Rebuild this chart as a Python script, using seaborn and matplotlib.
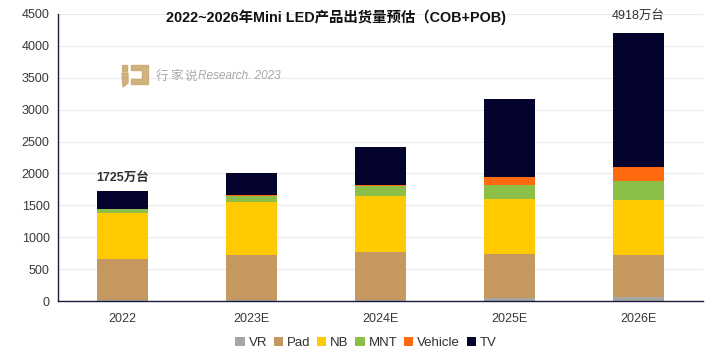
import matplotlib
matplotlib.use("Agg")
import matplotlib.pyplot as plt
from matplotlib.patches import Patch, Polygon, Rectangle
import numpy as np
import seaborn as sns

# Mini LED shipments (COB+POB), unit: 万台
years = ["2022", "2023E", "2024E", "2025E", "2026E"]
vr = [10, 12, 15, 50, 60]
pad = [650, 705, 758, 690, 660]
nb = [715, 830, 877, 862, 856]
mnt = [65, 105, 160, 210, 310]
vehicle = [5, 8, 15, 140, 214]
tv = [280, 340, 592, 1213, 2100]
series_names = ["VR", "Pad", "NB", "MNT", "Vehicle", "TV"]
total_labels = {"2022": "1725万台", "2026E": "4918万台"}

colors = ["#A6A6A6", "#C4985F", "#FFCA00", "#8CBF48", "#FF6A10", "#03032E"]
series = [vr, pad, nb, mnt, vehicle, tv]

sns.set_theme(style="white")
plt.rcParams["font.family"] = ["Liberation Sans", "Noto Sans CJK SC", "DejaVu Sans"]

fig = plt.figure(figsize=(7.11, 3.54), dpi=100)
ax = fig.add_axes([58 / 711, 1 - 301 / 354, 645 / 711, 287 / 354])

bottom = np.zeros(len(years))
for name, vals, col in zip(series_names, series, colors):
    sns.barplot(x=years, y=vals, bottom=bottom, color=col, width=0.4,
                ax=ax, linewidth=0, saturation=1)
    bottom = bottom + np.array(vals)

ax.set_ylim(0, 4500)
ax.set_xlim(-0.5, 4.5)
ax.set_yticks(np.arange(0, 4501, 500))
ax.yaxis.grid(True, color="#EBEBEB", linewidth=0.8)
ax.set_axisbelow(True)
for s in ["top", "right"]:
    ax.spines[s].set_visible(False)
ax.spines["left"].set_color("#1A1A3A")
ax.spines["bottom"].set_color("#1A1A3A")
ax.spines["left"].set_linewidth(1.0)
ax.spines["bottom"].set_linewidth(1.0)
ax.tick_params(axis="both", labelsize=9, colors="#383838", length=0, pad=6)
ax.tick_params(axis="x", pad=9)
ax.set_xlabel("")
ax.set_ylabel("")

# totals above selected bars
for i, y in enumerate(years):
    if y in total_labels:
        ax.annotate(total_labels[y], (i, bottom[i]), xytext=(0, 5 if i == 0 else 8),
                    textcoords="offset points", ha="center", va="bottom",
                    fontsize=9, color="#303030",
                    fontweight="bold" if i == 0 else "normal")

fig.text(336 / 711, 1 - 17 / 354, "2022~2026年Mini LED产品出货量预估（COB+POB)",
         ha="center", va="center", fontsize=10.4, fontweight="bold", color="#111111")

# watermark
wm_color = "#C9A56A"
T = fig.transFigure


def px(x, y):
    return [x / 711, 1 - y / 354]


fig.patches.append(Rectangle(px(122, 71), 5 / 711, 6 / 354, transform=T, color=wm_color, alpha=0.85))
fig.patches.append(Polygon([px(122, 73), px(128, 73), px(128, 83), px(123, 87)],
                           closed=True, transform=T, color=wm_color, alpha=0.85))
fig.patches.append(Polygon([px(131, 65), px(148, 65), px(148, 84), px(131, 84),
                            px(131, 79), px(142, 79), px(142, 70), px(131, 70)],
                           closed=True, transform=T, color=wm_color, alpha=0.85))
for k, ch in enumerate("行家说"):
    fig.text((156 + 14 * k) / 711, 1 - 76 / 354, ch, ha="left", va="center", fontsize=9,
             color="#A8A8A8", family=["Noto Sans CJK SC"])
fig.text(198 / 711, 1 - 76 / 354, "Research. 2023", ha="left", va="center", fontsize=8.5,
         color="#A8A8A8", style="italic", family=["Liberation Sans"])

handles = [Patch(facecolor=c, edgecolor="none", label=n) for n, c in zip(series_names, colors)]
fig.legend(handles=handles, loc="center", bbox_to_anchor=(366 / 711, 1 - 343 / 354),
           ncol=6, frameon=False, fontsize=9.5, handlelength=0.7, handleheight=0.7,
           handletextpad=0.3, columnspacing=0.5, labelcolor="#303030")

fig.savefig("out.png", dpi=100)
